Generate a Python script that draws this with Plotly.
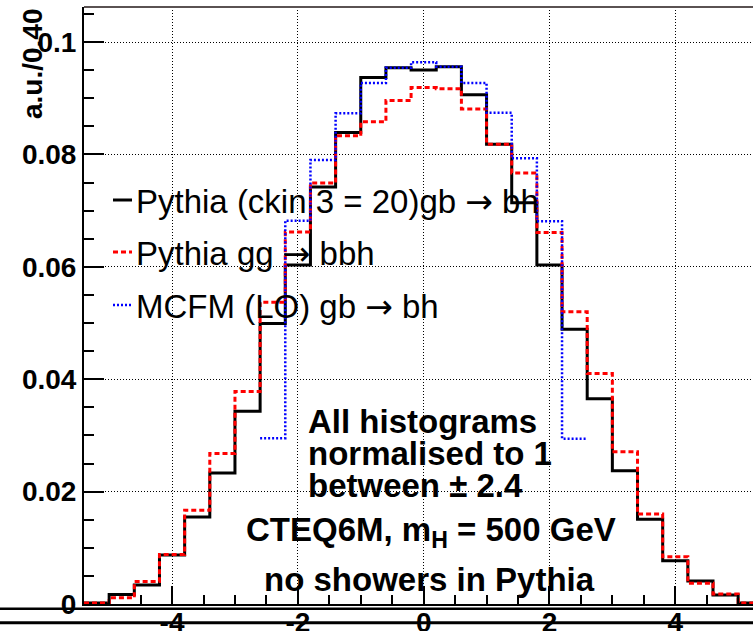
import plotly.graph_objects as go

# ---------------- data ----------------
bin_start = -5.4
bin_width = 0.4
pythia_gb = [0.0002, 0.0017, 0.0034, 0.0087, 0.0155, 0.0233, 0.0343, 0.0499, 0.0603,
             0.0742, 0.0839, 0.0937, 0.0954, 0.0950, 0.0956, 0.0906, 0.0818, 0.0714,
             0.0603, 0.0489, 0.0365, 0.0237, 0.0151, 0.0077, 0.0041, 0.0016, 0.0002]
pythia_gg = [0.0002, 0.0011, 0.0040, 0.0088, 0.0167, 0.0268, 0.0378, 0.0537, 0.0662,
             0.0749, 0.0833, 0.0858, 0.0896, 0.0919, 0.0917, 0.0881, 0.0818, 0.0767,
             0.0661, 0.0520, 0.0410, 0.0271, 0.0160, 0.0084, 0.0037, 0.0018, 0.0002]
mcfm_start = -2.6
mcfm_lo = [0.0295, 0.0682, 0.0790, 0.0873, 0.0927, 0.0954, 0.0964, 0.0956, 0.0927,
           0.0874, 0.0793, 0.0681, 0.0294]

ARROW = '<span style="font-family:DejaVu Sans">\u2192</span>'
series_names = ["Pythia (ckin 3 = 20)gb " + ARROW + " bh",
                "Pythia gg " + ARROW + " bbh",
                "MCFM (LO) gb " + ARROW + " bh"]
x_tick_vals = [-4, -2, 0, 2, 4]
x_tick_text = ["-4", "-2", "0", "2", "4"]
y_tick_vals = [0, 0.02, 0.04, 0.06, 0.08, 0.1]
y_tick_text = ["0", "0.02", "0.04", "0.06", "0.08", "0.1"]
y_title = "a.u./0.40"
note_lines = ["All histograms", "normalised to 1", "between \u00b1 2.4"]
note_cteq = "CTEQ6M, m<sub>H</sub> = 500 GeV"
note_shower = "no showers in Pythia"


def step_xy(start, width, vals):
    xs = [start + i * width for i in range(len(vals) + 1)]
    ys = list(vals) + [vals[-1]]
    return xs, ys


# ---------------- geometry ----------------
W, H = 753, 631
ML, MR, MT, MB = 84, 0, 7, 27
PW, PH = W - ML - MR, H - MT - MB
FONT = "Liberation Sans"


def px(xp):
    return (xp - ML) / PW


def py(yp):
    return (H - MB - yp) / PH


fig = go.Figure()
styles = [
    dict(color="black", width=3),
    dict(color="#ff0000", width=3, dash="5px,3px"),
    dict(color="#0000ff", width=2.5, dash="2px,2px"),
]
datasets = [(bin_start, pythia_gb), (bin_start, pythia_gg), (mcfm_start, mcfm_lo)]
for name, (st, vals), ln in zip(series_names, datasets, styles):
    xs, ys = step_xy(st, bin_width, vals)
    fig.add_trace(go.Scatter(x=xs, y=ys, mode="lines", line=dict(shape="hv", **ln),
                             name=name, showlegend=False, hoverinfo="skip"))

x_lo = bin_start
x_hi = x_lo + PW / 62.9
y_hi = PH / 5620.0

fig.update_layout(
    width=W, height=H, margin=dict(l=ML, r=MR, t=MT, b=MB, pad=0),
    paper_bgcolor="white", plot_bgcolor="white", template="none",
    font=dict(family=FONT, color="black"),
    showlegend=False,
    xaxis=dict(range=[x_lo, x_hi], showline=True, linecolor="black", linewidth=2,
               mirror=False, zeroline=False, automargin=False,
               tickvals=x_tick_vals, ticktext=x_tick_text, ticks="inside",
               ticklen=18, tickwidth=1.5, tickcolor="black", ticklabelstandoff=-8,
               tickfont=dict(family=FONT, size=28, weight="bold", color="black"),
               showgrid=True, gridcolor="black", gridwidth=1, griddash="1px,2px",
               minor=dict(dtick=0.5, tick0=0, ticks="inside", ticklen=9, tickwidth=1.5,
                          tickcolor="black", showgrid=False)),
    yaxis=dict(range=[0, y_hi], showline=True, linecolor="black", linewidth=2,
               mirror=False, zeroline=False, automargin=False,
               tickvals=y_tick_vals, ticktext=y_tick_text, ticks="inside",
               ticklen=20, tickwidth=1.5, tickcolor="black",
               tickfont=dict(family=FONT, size=28, weight="bold", color="black"),
               showgrid=True, gridcolor="black", gridwidth=1, griddash="1px,2px",
               minor=dict(dtick=0.005, tick0=0, ticks="inside", ticklen=10, tickwidth=1.5,
                          tickcolor="black", showgrid=False)),
)

shapes = []
# top frame
shapes.append(dict(type="line", xref="paper", yref="paper", x0=0, x1=1.05, y0=1, y1=1,
                   line=dict(color="#5a5252", width=2)))
# extra bottom lines (full width)
for yl, wd in [(608.7, 2.5), (622.7, 3)]:
    shapes.append(dict(type="line", xref="paper", yref="paper", x0=px(-5), x1=px(W + 5),
                       y0=py(yl), y1=py(yl), line=dict(color="black", width=wd)))
# legend samples
leg_y = [200, 252, 305]
for yl, ln in zip(leg_y, styles):
    shapes.append(dict(type="line", xref="paper", yref="paper", x0=px(113), x1=px(132),
                       y0=py(yl), y1=py(yl), line=ln))
fig.update_layout(shapes=shapes)

ann = []
for yl, name in zip(leg_y, series_names):
    ann.append(dict(text=name, xref="paper", yref="paper", x=px(134), y=py(yl + 1),
                    xanchor="left", yanchor="middle", showarrow=False,
                    font=dict(family=FONT, size=33, color="black")))
for yl, t in zip([419, 451, 483], note_lines):
    ann.append(dict(text=t, xref="paper", yref="paper", x=px(306), y=py(yl + 2),
                    xanchor="left", yanchor="middle", showarrow=False,
                    font=dict(family=FONT, size=33, weight="bold", color="black")))
ann.append(dict(text=note_cteq, xref="paper", yref="paper", x=px(431), y=py(532),
                xanchor="center", yanchor="middle", showarrow=False,
                font=dict(family=FONT, size=33, weight="bold", color="black")))
ann.append(dict(text=note_shower, xref="paper", yref="paper", x=px(429), y=py(579),
                xanchor="center", yanchor="middle", showarrow=False,
                font=dict(family=FONT, size=33, weight="bold", color="black")))
ann.append(dict(text=y_title, xref="paper", yref="paper", x=px(33), y=py(64),
                xanchor="center", yanchor="middle", textangle=-90, showarrow=False,
                font=dict(family=FONT, size=28, weight="bold", color="black")))
fig.update_layout(annotations=ann)

fig.write_html("out.html")
